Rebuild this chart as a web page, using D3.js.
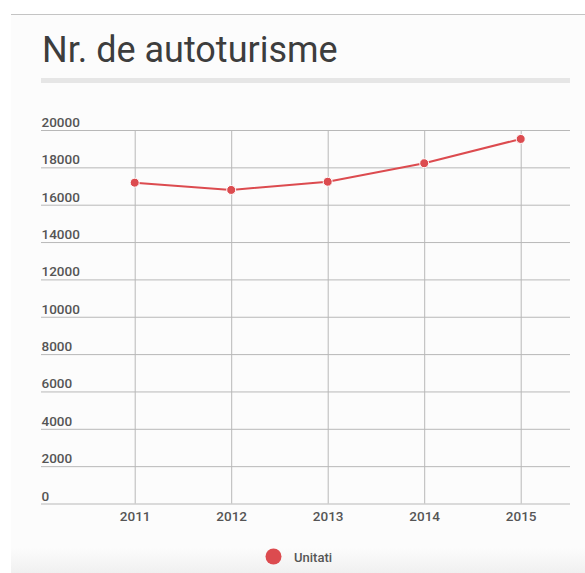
<!DOCTYPE html>
<html>
<head>
<meta charset="utf-8">
<script src="https://cdn.jsdelivr.net/npm/d3@7"></script>
<style>
  body { margin: 0; background: #fff; }
  svg { display: block; font-family: Roboto, "Noto Sans", sans-serif; }
  .axis .domain { display: none; }
  .axis line { stroke: #b8b8b8; }
  .axis text { fill: #555; font-family: Roboto, sans-serif; font-size: 13.5px; font-weight: 500; }
</style>
</head>
<body>
<div class="chartWrap"></div>
<script>
//Data
const years = ["2011", "2012", "2013", "2014", "2015"];
const unitati = [17180, 16790, 17230, 18220, 19520];
const yTicks = [0, 2000, 4000, 6000, 8000, 10000, 12000, 14000, 16000, 18000, 20000];
const seriesName = "Unitati";
const title = "Nr. de autoturisme";

//Layout
let width = 585,
    height = 573,
    gridLeft = 41,
    gridRight = 570,
    gridTop = 130,
    gridBottom = 503.5;

let canvas = d3.select(".chartWrap").append("svg").attr("width", width).attr("height", height);

//Panel background + bottom shade
let defs = canvas.append("defs");
let grad = defs.append("linearGradient").attr("id", "shade").attr("x1", 0).attr("x2", 0).attr("y1", 0).attr("y2", 1);
grad.append("stop").attr("offset", "0%").attr("stop-color", "#fcfcfc");
grad.append("stop").attr("offset", "100%").attr("stop-color", "#f0f0f0");
canvas.append("rect").attr("x", 11).attr("y", 14).attr("width", width - 11).attr("height", height - 14).attr("fill", "#fcfcfc");
canvas.append("rect").attr("x", 11).attr("y", 548).attr("width", width - 11).attr("height", height - 548).attr("fill", "url(#shade)");
canvas.append("line").attr("x1", 11).attr("x2", width).attr("y1", 14.5).attr("y2", 14.5)
  .attr("stroke", "#c4c4c4").attr("stroke-width", 1);

//Title
canvas.append("text").text(title)
  .attr("x", 42).attr("y", 62)
  .attr("font-size", 36)
  .attr("fill", "#3d3d3d");
canvas.append("rect").attr("x", gridLeft).attr("y", 78).attr("width", gridRight - gridLeft).attr("height", 5)
  .attr("fill", "#e6e6e6");

//Scales
let xScale = d3.scalePoint().domain(years).range([134.7, 520.7]);
let yScale = d3.scaleLinear().domain([0, 20000]).range([gridBottom, gridTop]);

//Y axis (labels sit above grid lines)
let yAxis = d3.axisLeft(yScale).tickValues(yTicks).tickSize(-(gridRight - gridLeft)).tickFormat(d3.format("d"));
let gy = canvas.append("g").attr("class", "axis")
  .attr("transform", "translate(" + gridLeft + ",0)")
  .call(yAxis);
gy.selectAll("text").attr("x", 0.5).attr("dy", -3.5).attr("text-anchor", "start");

//X axis with vertical grid lines
let xAxis = d3.axisBottom(xScale).tickSize(-(gridBottom - gridTop)).tickPadding(8);
let gx = canvas.append("g").attr("class", "axis")
  .attr("transform", "translate(0," + gridBottom + ")")
  .call(xAxis);
gx.selectAll("text").attr("dy", "0.71em");

//Line + dots
let line = d3.line().x(function(d, i) { return xScale(years[i]); }).y(function(d) { return yScale(d); });
canvas.append("path").datum(unitati)
  .attr("d", line)
  .attr("fill", "none")
  .attr("stroke", "#dc4b4f")
  .attr("stroke-width", 2);
canvas.selectAll("circle.dot").data(unitati).enter().append("circle")
  .attr("class", "dot")
  .attr("cx", function(d, i) { return xScale(years[i]); })
  .attr("cy", function(d) { return yScale(d); })
  .attr("r", 4.5)
  .attr("fill", "#dc4b4f")
  .attr("stroke", "#fff")
  .attr("stroke-width", 1);

//Legend
canvas.append("circle").attr("cx", 273.5).attr("cy", 556.5).attr("r", 8).attr("fill", "#dc4b4f");
canvas.append("text").text(seriesName)
  .attr("x", 294).attr("y", 561.5)
  .attr("font-size", 13)
  .attr("font-weight", 500)
  .attr("fill", "#555");
</script>
</body>
</html>
